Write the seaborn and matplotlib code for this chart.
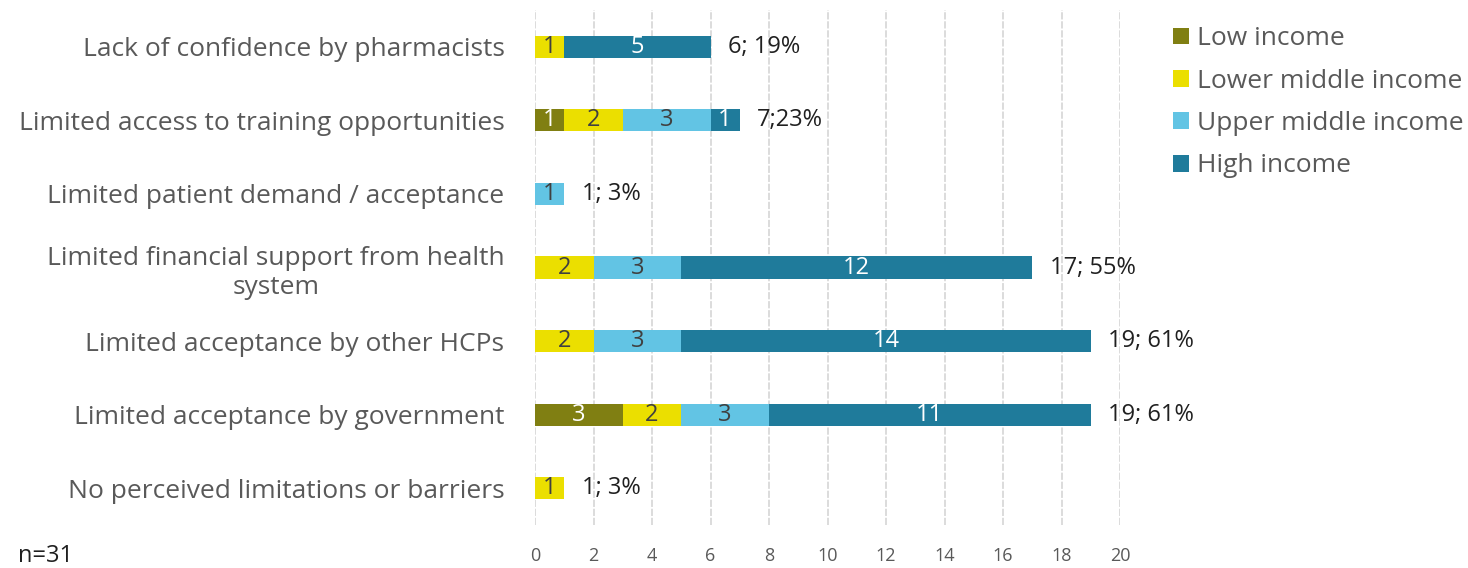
import pandas as pd
import seaborn as sns
import matplotlib.pyplot as plt
from matplotlib.patches import Patch
import numpy as np

# Data
categories = [
    'Lack of confidence by pharmacists',
    'Limited access to training opportunities',
    'Limited patient demand / acceptance',
    'Limited financial support from health\nsystem',
    'Limited acceptance by other HCPs',
    'Limited acceptance by government',
    'No perceived limitations or barriers',
]
low_income = [0, 1, 0, 0, 0, 3, 0]
lower_middle = [1, 2, 0, 2, 2, 2, 1]
upper_middle = [0, 3, 1, 3, 3, 3, 0]
high_income = [5, 1, 0, 12, 14, 11, 0]
total_labels = ['6; 19%', '7;23%', '1; 3%', '17; 55%', '19; 61%', '19; 61%', '1; 3%']
x_ticks = list(range(0, 21, 2))
n_label = 'n=31'

groups = ['Low income', 'Lower middle income', 'Upper middle income', 'High income']
colors = ['#807f12', '#ebdf00', '#62c4e4', '#1f7b9b']
text_colors = ['white', '#404040', '#404040', 'white']

df = pd.DataFrame({'category': categories,
                   groups[0]: low_income,
                   groups[1]: lower_middle,
                   groups[2]: upper_middle,
                   groups[3]: high_income})
cum = df[groups].cumsum(axis=1)
df['total'] = cum[groups[-1]]

sns.set_style('white')
plt.rcParams['font.family'] = ['Open Sans', 'DejaVu Sans']

fig = plt.figure(figsize=(14.68, 5.68), dpi=100)
ax = fig.add_axes([535 / 1468, 1 - 525 / 568, (1120 - 535) / 1468, 515 / 568])

# stacked bars: draw cumulative widths from the widest segment back
for g, c in reversed(list(zip(groups, colors))):
    sns.barplot(x=cum[g], y=df['category'], color=c, width=0.3,
                orient='h', ax=ax, saturation=1, zorder=3, linewidth=0)

# segment labels and totals
for i in range(len(df)):
    start = 0
    for g, tc in zip(groups, text_colors):
        v = df.loc[i, g]
        if v > 0:
            ax.text(start + v / 2, i, str(v), ha='center', va='center',
                    fontsize=17, color=tc, zorder=4)
        start += v
    ax.text(df.loc[i, 'total'] + 0.6, i, total_labels[i], ha='left',
            va='center', fontsize=17, color='#202020', clip_on=False)

ax.set_xlim(0, 20)
ax.set_ylim(len(df) - 0.5, -0.5)
ax.set_xticks(x_ticks)
ax.tick_params(axis='x', labelsize=13, labelcolor='#595959', length=0, pad=16)
ax.tick_params(axis='y', labelsize=19, labelcolor='#595959', length=0, pad=22)
ax.set_xlabel('')
ax.set_ylabel('')
ax.xaxis.grid(True, color='#d9d9d9', linewidth=1.3, linestyle=(0, (4, 1)), zorder=0)
ax.set_axisbelow(True)
sns.despine(ax=ax, left=True, bottom=True)
for lab in ax.get_yticklabels():
    lab.set_multialignment('center')
    lab.set_linespacing(1.25)

handles = [Patch(facecolor=c, edgecolor='none') for c in colors]
fig.legend(handles, groups, loc='upper left', bbox_to_anchor=(1160 / 1468, 1 - 13 / 568),
           frameon=False, fontsize=19, labelcolor='#595959', handlelength=0.6,
           handleheight=0.6, handletextpad=0.3, labelspacing=0.66, borderpad=0)

fig.text(18 / 1468, 1 - 556 / 568, n_label, fontsize=17, color='#202020', va='center')

fig.savefig('out.png', dpi=100)
